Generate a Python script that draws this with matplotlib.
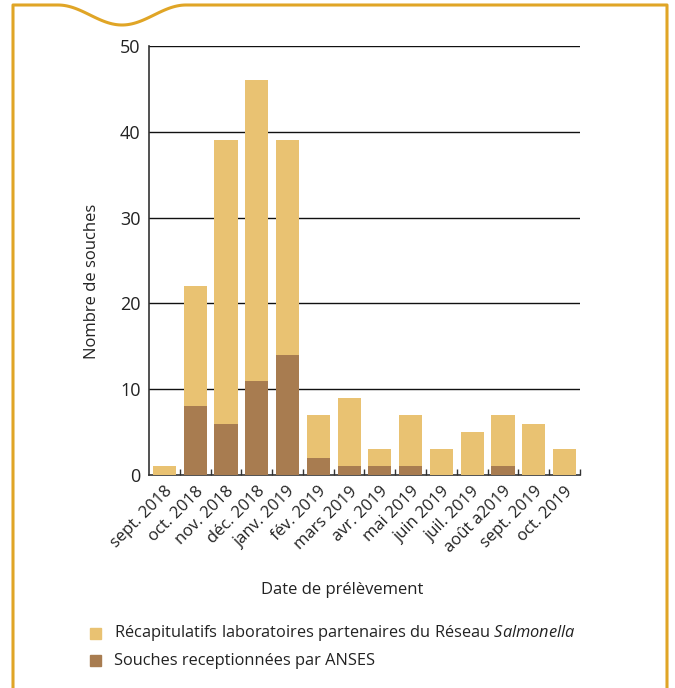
import matplotlib
matplotlib.use("Agg")
import matplotlib.pyplot as plt
from matplotlib.lines import Line2D
import numpy as np

months = ["sept. 2018", "oct. 2018", "nov. 2018", "déc. 2018", "janv. 2019", "fév. 2019",
          "mars 2019", "avr. 2019", "mai 2019", "juin 2019", "juil. 2019", "août a2019",
          "sept. 2019", "oct. 2019"]
total = [1, 22, 39, 46, 39, 7, 9, 3, 7, 3, 5, 7, 6, 3]
anses = [0, 8, 6, 11, 14, 2, 1, 1, 1, 0, 0, 1, 0, 0]
yticks = [0, 10, 20, 30, 40, 50]

light = "#E9C272"
dark = "#A87C50"
gold = "#E0A526"
txt = "#222222"

plt.rcParams['font.family'] = ['Open Sans', 'DejaVu Sans']
plt.rcParams['mathtext.fontset'] = 'custom'
plt.rcParams['mathtext.it'] = 'Open Sans:italic'
plt.rcParams['mathtext.rm'] = 'Open Sans'

fig = plt.figure(figsize=(6.75, 6.88), dpi=100)
W, H = 675, 688
ax = fig.add_axes([149 / W, 1 - 475 / H, (580 - 149) / W, (475 - 46) / H])

x = np.arange(len(months)) + 0.5
ax.bar(x, total, width=0.75, color=light, zorder=3)
ax.bar(x, anses, width=0.75, color=dark, zorder=4)

ax.set_xlim(0, len(months))
ax.set_ylim(0, 50)
ax.set_yticks(yticks)
ax.set_yticklabels([str(v) for v in yticks], fontsize=13, color=txt)
ax.tick_params(axis='y', length=0, pad=6)
for v in yticks[1:]:
    ax.axhline(v, color="#111111", lw=1.0, zorder=2)

ax.set_xticks(x)
ax.set_xticklabels(months, rotation=45, ha='right', rotation_mode='anchor', fontsize=12, color=txt)
ax.tick_params(axis='x', length=0, pad=6)
ax.set_xticks(np.arange(1, len(months) + 1), minor=True)
ax.tick_params(axis='x', which='minor', direction='in', length=4, color="#333333", width=1)

for s in ['top', 'right']:
    ax.spines[s].set_visible(False)
ax.spines['left'].set_color("#333333")
ax.spines['bottom'].set_color("#333333")
ax.spines['left'].set_linewidth(1.2)
ax.spines['bottom'].set_linewidth(1.2)

fig.text(92 / W, 1 - 281 / H, "Nombre de souches", rotation=90, ha='center', va='center',
         fontsize=12, color=txt)
fig.text(342 / W, 1 - 590 / H, "Date de prélèvement", ha='center', va='center',
         fontsize=12, color=txt)

# legend
fig.patches.append(plt.Rectangle((90 / W, 1 - 639 / H), 11 / W, 11 / H, transform=fig.transFigure,
                                 color=light, figure=fig))
fig.patches.append(plt.Rectangle((90 / W, 1 - 666 / H), 11 / W, 11 / H, transform=fig.transFigure,
                                 color=dark, figure=fig))
fig.text(114 / W, 1 - 633 / H, "Récapitulatifs laboratoires partenaires du Réseau $\\mathit{Salmonella}$",
         ha='left', va='center', fontsize=11.8, color=txt)
fig.text(114 / W, 1 - 661 / H, "Souches receptionnées par ANSES",
         ha='left', va='center', fontsize=11.8, color=txt)

# gold frame with wave
t = np.linspace(0, 1, 60)
wave_x = 58 + 128 * t
wave_y = 5 + 20 * (1 - np.cos(2 * np.pi * t)) / 2
fx = [13, 13, 58] + list(wave_x) + [667, 667]
fy = [H, 5, 5] + list(wave_y) + [5, H]
fig.lines.append(Line2D([v / W for v in fx], [1 - v / H for v in fy], transform=fig.transFigure,
                        color=gold, lw=2.2, figure=fig))

fig.savefig("out.png", dpi=100)
